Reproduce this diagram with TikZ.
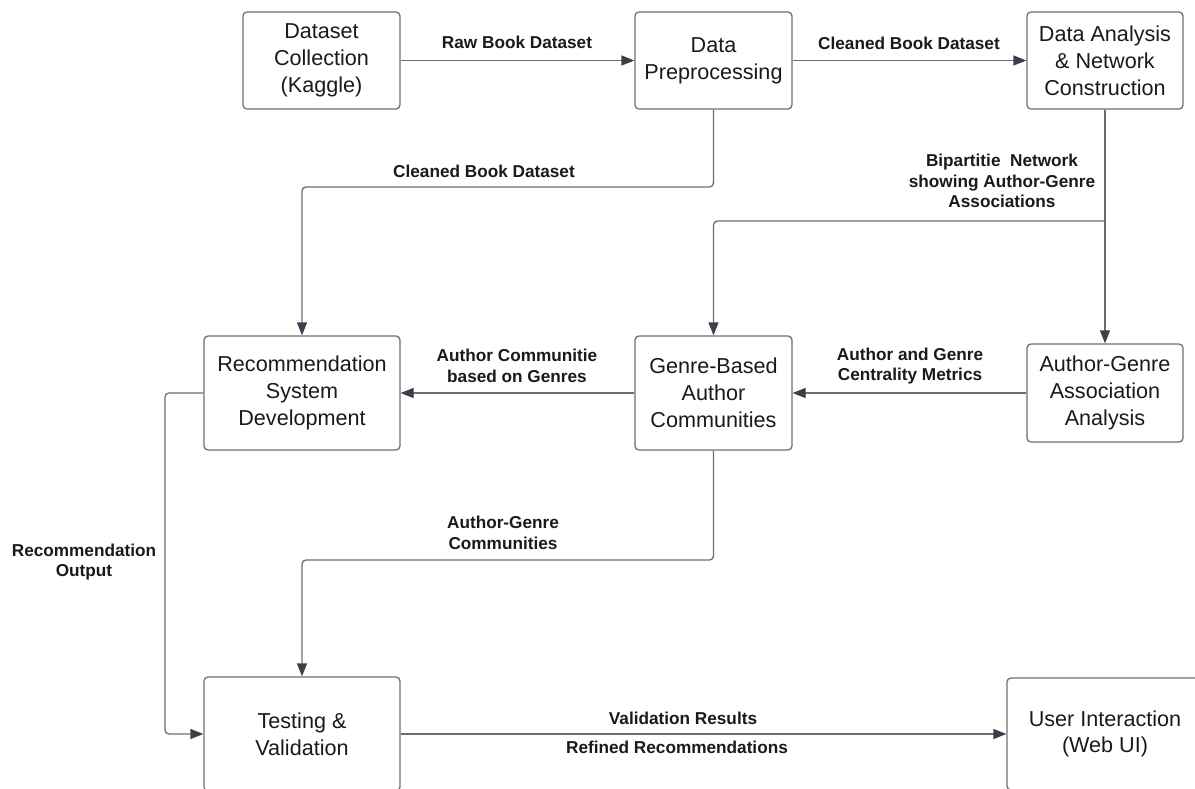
\documentclass[tikz,border=0pt]{standalone}
\usepackage{fontspec}
\setmainfont{Liberation Sans}
\usetikzlibrary{arrows.meta,calc}
\definecolor{boxline}{HTML}{707070}
\definecolor{conline}{HTML}{6E6E6E}
\definecolor{tipcol}{HTML}{3A3F4A}
\definecolor{txt}{HTML}{1A1A1A}
\tikzset{
  stepbox/.style={draw=boxline, line width=1.3pt, rounded corners=4pt, fill=white,
    inner sep=0pt, align=center, text=txt, font=\fontsize{21.6}{26.8}\selectfont},
  conn/.style={draw=conline, line width=1.3pt, rounded corners=4pt,
    -{Triangle[length=13pt,width=10pt,fill=tipcol,color=tipcol]}},
  conn0/.style={draw=conline, line width=1.3pt, rounded corners=4pt},
  lbl/.style={inner sep=0pt, align=center, text=txt, font=\bfseries\fontsize{17.2}{20.5}\selectfont},
}
\begin{document}
\begin{tikzpicture}[x=1pt,y=-1pt]
\useasboundingbox (0,0) rectangle (1195,789);
\fill[white] (0,0) rectangle (1195,789);
\begin{scope}
\clip (0,0) rectangle (1195,789);
% boxes
\node[stepbox, minimum width=157pt, minimum height=97pt] (ds) at (321.5,60.5) {Dataset\\Collection\\(Kaggle)};
\node[stepbox, minimum width=157pt, minimum height=97pt] (pre) at (713.5,60.5) {Data\\Preprocessing};
\node[stepbox, minimum width=156pt, minimum height=97pt] (dan) at (1105,60.5) {Data Analysis\\\& Network\\Construction};
\node[stepbox, minimum width=196pt, minimum height=114pt] (rec) at (302,393) {Recommendation\\System\\Development};
\node[stepbox, minimum width=157pt, minimum height=114pt] (gen) at (713.5,393) {Genre-Based\\Author\\Communities};
\node[stepbox, minimum width=156pt, minimum height=98pt] (aga) at (1105,393) {Author-Genre\\Association\\Analysis};
\node[stepbox, minimum width=196pt, minimum height=114pt] (test) at (302,734) {Testing \&\\Validation};
\node[stepbox, minimum width=196pt, minimum height=112pt] (ui) at (1105,734) {User Interaction\\(Web UI)};
% bend points
\coordinate (k1) at (713.5,187);
\coordinate (k2) at (1105,221);
\coordinate (k3) at (713.5,560);
\coordinate (k4) at (165,393);
% connectors
\draw[conn] (ds.east) -- (pre.west);
\draw[conn] (pre.east) -- (dan.west);
\draw[conn] (pre.south) -- (k1) -| (rec.north);
\draw[conn] (dan.south) -- (aga.north);
\draw[conn] (k2) -| (gen.north);
\draw[conn] (aga.west) -- (gen.east);
\draw[conn] (gen.west) -- (rec.east);
\draw[conn] (gen.south) -- (k3) -| (test.north);
\draw[conn] (rec.west) -- (k4) |- (test.west);
\draw[conn] (test.east) -- (ui.west);
% labels
\node[lbl] (l1) at (517,42) {Raw Book Dataset};
\node[lbl] (l2) at (909,43) {Cleaned Book Dataset};
\node[lbl] (l3) at (484,171) {Cleaned Book Dataset};
\node[lbl] (l4) at (1002,181) {Bipartitie\ \ Network\\showing Author-Genre\\Associations};
\node[lbl] (l5) at (517,366) {Author Communitie\\based on Genres};
\node[lbl] (l6) at (910,366) {Author and Genre\\Centrality Metrics};
\node[lbl] (l7) at (503,533) {Author-Genre\\Communities};
\node[lbl] (l8) at (84,562) {Recommendation\\Output};
\node[lbl] (l9) at (683,718) {Validation Results};
\node[lbl] (l10) at (677,747) {Refined Recommendations};
\end{scope}
\end{tikzpicture}
\end{document}
